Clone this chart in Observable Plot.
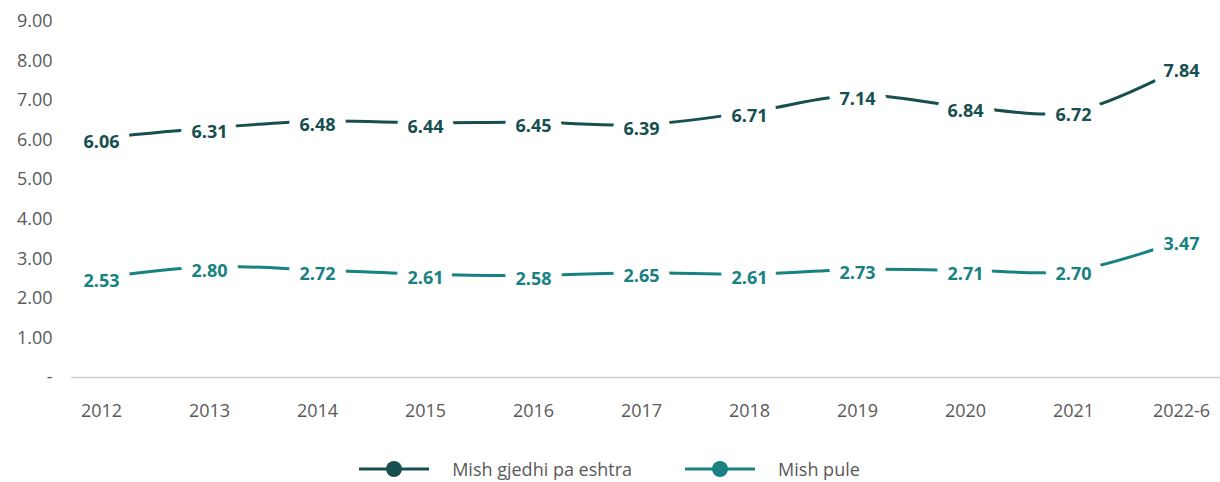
<!DOCTYPE html>
<html>
<head>
<meta charset="utf-8">
<script src="https://cdn.jsdelivr.net/npm/d3@7"></script>
<script src="https://cdn.jsdelivr.net/npm/@observablehq/plot@0.6"></script>
<style>
  html, body { margin: 0; padding: 0; background: #fff; }
  body { width: 1220px; font-family: "Open Sans", sans-serif; }
  #legend { display: flex; justify-content: center; align-items: center; height: 42px; padding-top: 8px; color: #595959; font-size: 18px; margin-left: -2px; }
  .item { display: flex; align-items: center; margin: 0 26px; }
  .item svg { margin-right: 22px; }
</style>
</head>
<body>
<div id="chart"></div>
<div id="legend"></div>
<script>
const years = ["2012","2013","2014","2015","2016","2017","2018","2019","2020","2021","2022-6"];
const beef = [6.06, 6.31, 6.48, 6.44, 6.45, 6.39, 6.71, 7.14, 6.84, 6.72, 7.84];
const chicken = [2.53, 2.80, 2.72, 2.61, 2.58, 2.65, 2.61, 2.73, 2.71, 2.70, 3.47];
const seriesNames = ["Mish gjedhi pa eshtra", "Mish pule"];
const colors = ["#174f50", "#188282"];
const yTicks = [0,1,2,3,4,5,6,7,8,9];

const data = [];
years.forEach((y, i) => {
  data.push({year: y, value: beef[i], series: seriesNames[0]});
  data.push({year: y, value: chicken[i], series: seriesNames[1]});
});

const chart = Plot.plot({
  width: 1220,
  height: 440,
  marginLeft: 71,
  marginRight: 0,
  marginTop: 21,
  marginBottom: 63,
  style: {fontFamily: "'Open Sans', sans-serif", fontSize: "18px", color: "#595959", background: "#fff"},
  x: {type: "point", domain: years, padding: 0, insetLeft: 27, insetRight: 37, label: null},
  y: {domain: [0, 9], label: null},
  color: {domain: seriesNames, range: colors},
  marks: [
    Plot.ruleY([0], {stroke: "#d0d0d0", strokeWidth: 1.5}),
    Plot.axisX({tickSize: 0, tickPadding: 27, fontSize: 18, fill: "#595959"}),
    Plot.axisY(yTicks, {tickSize: 0, tickPadding: 19, fontSize: 18, fill: "#595959",
      tickFormat: d => d === 0 ? "-" : d3.format(".2f")(d)}),
    Plot.line(data, {x: "year", y: "value", z: "series", stroke: "series", strokeWidth: 3, curve: "catmull-rom"}),
    Plot.text(data, {x: "year", y: "value", text: d => d3.format(".2f")(d.value), fill: "series",
      stroke: "white", strokeWidth: 22, strokeLinejoin: "round", fontWeight: "bold", fontSize: 18, dy: 4})
  ]
});
document.getElementById("chart").appendChild(chart);

const legend = document.getElementById("legend");
seriesNames.forEach((name, i) => {
  const item = document.createElement("div");
  item.className = "item";
  item.innerHTML = `<svg width="72" height="20"><line x1="1" y1="10" x2="71" y2="10" stroke="${colors[i]}" stroke-width="3"/><circle cx="36" cy="10" r="8" fill="${colors[i]}"/></svg><span>${name}</span>`;
  legend.appendChild(item);
});
</script>
</body>
</html>
